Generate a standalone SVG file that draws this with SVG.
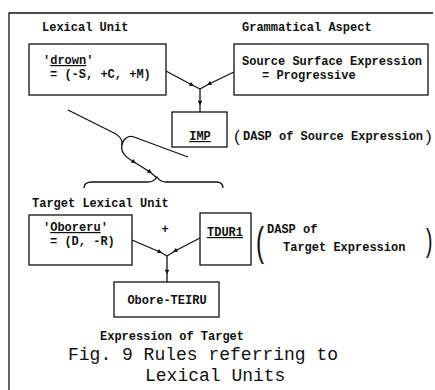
<svg xmlns="http://www.w3.org/2000/svg" width="435" height="390" viewBox="0 0 435 390">
<style>
.t{font-family:"Liberation Mono","DejaVu Sans Mono",monospace;font-weight:bold;font-size:12px;fill:#111}
.c{font-family:"Liberation Mono","DejaVu Sans Mono",monospace;font-size:18px;fill:#111}
.p{font-family:"Liberation Sans",Arial,sans-serif;fill:#111}
.b{fill:#fff;stroke:#111;stroke-width:1.3}
.l{fill:none;stroke:#111;stroke-width:1.3}
.u{text-decoration:underline}
</style>
<defs>
<marker id="ar" viewBox="0 0 10 10" refX="5" refY="5" markerWidth="7" markerHeight="4.5" markerUnits="userSpaceOnUse" orient="auto"><path d="M0,0 L10,5 L0,10 z" fill="#111"/></marker>
</defs>
<rect width="435" height="390" fill="#fff"/>
<g id="frame"><path class="l" d="M9,390 L9,13 L433,13"/></g>
<g id="lexical-unit">
<text class="t" x="42" y="31">Lexical Unit</text>
<rect class="b" x="29" y="44" width="137" height="51"/>
<text class="t" x="43" y="64">'<tspan class="u">drown</tspan>'</text>
<text class="t" x="50" y="78">= (-S, +C, +M)</text>
</g>
<g id="grammatical-aspect">
<text class="t" x="242" y="31">Grammatical Aspect</text>
<rect class="b" x="234" y="44" width="194" height="51"/>
<text class="t" x="242" y="65">Source Surface Expression</text>
<text class="t" x="262" y="79">= Progressive</text>
</g>
<g id="imp">
<rect class="b" x="172" y="112" width="55" height="35"/>
<text class="t u" x="200" y="140" text-anchor="middle">IMP</text>
<text class="p" x="234" y="142" font-size="17">(</text>
<text class="t" x="243" y="140">DASP of Source Expression</text>
<text class="p" x="426" y="142" font-size="17">)</text>
</g>
<g id="target-lexical-unit">
<text class="t" x="32" y="207">Target Lexical Unit</text>
<rect class="b" x="29" y="215" width="103" height="50"/>
<text class="t" x="43" y="231">'<tspan class="u">Oboreru</tspan>'</text>
<text class="t" x="50" y="245">= (D, -R)</text>
</g>
<g id="plus"><text class="t" x="165" y="233" text-anchor="middle">+</text></g>
<g id="tdur1">
<rect class="b" x="200" y="213" width="51" height="52"/>
<text class="t u" x="225" y="236" text-anchor="middle">TDUR1</text>
<text class="p" x="256" y="256" font-size="40" transform="translate(256 0) scale(0.6 1) translate(-256 0)">(</text>
<text class="t" x="267" y="233">DASP of</text>
<text class="t" x="283" y="251">Target Expression</text>
<text class="p" x="426" y="251" font-size="32" transform="translate(426 0) scale(0.6 1) translate(-426 0)">)</text>
</g>
<g id="obore-teiru">
<rect class="b" x="114" y="282" width="105" height="35"/>
<text class="t" x="167" y="304" text-anchor="middle">Obore-TEIRU</text>
<text class="t" x="100" y="340">Expression of Target</text>
</g>
<g id="caption">
<text class="c" x="68" y="360">Fig. 9 Rules referring to</text>
<text class="c" x="145" y="381">Lexical Units</text>
</g>
<g id="connectors">
<path class="l" d="M166,71 L192,85 L200,89" marker-mid="url(#ar)"/>
<path class="l" d="M234,72 L209,84 L200,89" marker-mid="url(#ar)"/>
<path class="l" d="M200,89 L200,103 L200,112" marker-mid="url(#ar)"/>
<path class="l" d="M68,110 L112,132 C119,135 123,139 122,145"/>
<path class="l" d="M188,157 L134,137 C128,135 123,139 122,145"/>
<path class="l" d="M122,145 C120,152 125,157 134,162 L150,172 L157,178" marker-mid="url(#ar)"/>
<path class="l" d="M84,188 C84,184 87,182 92,182 L148,182 C152,182 155,180 157,177 C159,180 162,182 166,182 L216,182 C220,182 223,184 223,188"/>
<path class="l" d="M132,240 L160,252 L167,256" marker-mid="url(#ar)"/>
<path class="l" d="M200,238 L175,251 L167,256" marker-mid="url(#ar)"/>
<path class="l" d="M167,256 L167,272 L167,282" marker-mid="url(#ar)"/>
</g>
</svg>
